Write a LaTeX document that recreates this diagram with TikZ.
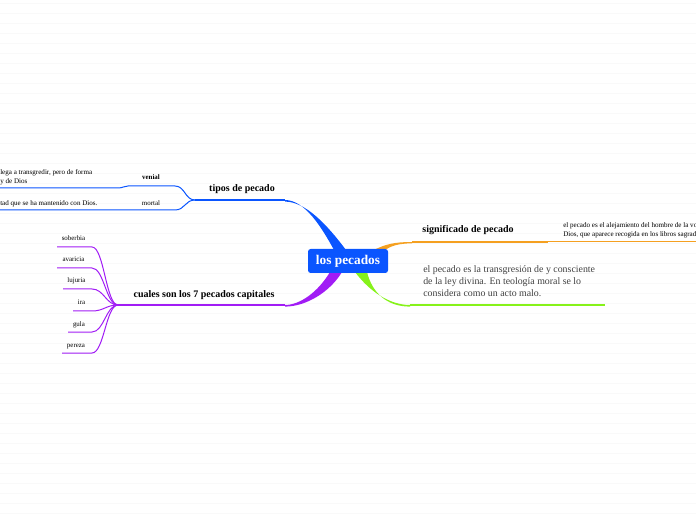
\documentclass[tikz,border=0pt]{standalone}
\usepackage{fontspec}
\setmainfont{Liberation Serif}
\usetikzlibrary{calc}
\definecolor{azul}{HTML}{0A55FF}
\definecolor{morado}{HTML}{A11CF5}
\definecolor{verde}{HTML}{86F21A}
\definecolor{naranja}{HTML}{F5A020}
\begin{document}
\begin{tikzpicture}[
x=0.75pt,y=-0.75pt,
tema/.style={font=\bfseries\fontsize{7.5}{9}\selectfont, inner sep=0pt, anchor=base},
hoja/.style={font=\fontsize{5.2}{6.5}\selectfont, inner sep=0pt, anchor=base},
nota/.style={font=\fontsize{5.3}{6.8}\selectfont, inner sep=0pt, align=left},
rama/.style={line width=1.1pt},
sub/.style={line width=0.75pt}
]
\useasboundingbox (0,0) rectangle (696,520);
\foreach \y in {3,13,...,513}
\draw[black!2.5, line width=0.6pt] (0,\y) -- (696,\y);

% ramas principales
\coordinate (T) at (285,200);
\coordinate (Tj) at (195,200);
\coordinate (C) at (285,305);
\coordinate (Cj) at (118,305);
\coordinate (S) at (412,242);
\coordinate (Sj) at (548,242);
\coordinate (G) at (410,305);
\coordinate (Gx) at (605,305);

\fill[azul] (334,250) .. controls (322,228) and (305,200) .. (T)
-- ($(T)+(0,1.6)$) .. controls (306,201.6) and (328,226) .. (346,250) -- cycle;
\fill[morado] (330,272) .. controls (318,292) and (300,305) .. (C)
-- ($(C)+(0,1.6)$) .. controls (306,306.6) and (330,292) .. (342,272) -- cycle;
\fill[verde] (355,272) .. controls (370,292) and (390,305) .. (G)
-- ($(G)+(0,1.6)$) .. controls (386,306.6) and (372,292) .. (367,272) -- cycle;
\fill[naranja] (372,251) .. controls (385,244) and (395,242) .. (S)
-- ($(S)+(0,1.3)$) .. controls (398,243.5) and (390,246) .. (384,251) -- cycle;

\node[fill=azul, rounded corners=2pt, text=white,
font=\bfseries\fontsize{10}{12}\selectfont,
minimum width=60pt, minimum height=18pt] (P) at (348,261) {los pecados};

% tipos de pecado
\draw[rama, azul] (T) -- (Tj);
\node[tema] (Tl) at (242,192) {tipos de pecado};
\coordinate (V) at (175,186);
\coordinate (Vx) at (128,186);
\coordinate (Vh) at (0,188);
\coordinate (M) at (175,210);
\coordinate (Mx) at (0,210);
\draw[sub, azul] (Tj) .. controls (185,200) and (185,186) .. (V) -- (Vx)
.. controls (124,186) and (123,188) .. (118,188) -- (Vh);
\draw[sub, azul] (Tj) .. controls (185,200) and (185,210) .. (M) -- (Mx);
\node[hoja, font=\bfseries\fontsize{5.2}{6.5}\selectfont] (Vl) at (151,180) {venial};
\node[hoja] (Ml) at (151,206) {mortal};
\node[nota, anchor=north west] (Vt) at (0,169.5) {lega a transgredir, pero de forma\\y de Dios};
\node[nota, anchor=base west] (Mt) at (0,206) {tad que se ha mantenido con Dios.};

% cuales son los 7 pecados capitales
\draw[rama, morado] (C) -- (Cj);
\node[tema] (Cl) at (204,298) {cuales son los 7 pecados capitales};
\foreach \n/\y/\x in {soberbia/247/57, avaricia/268/57, lujuria/289/63,
ira/311/73, gula/332/68, pereza/353/62} {
\coordinate (\n) at (\x,\y);
\draw[sub, morado] (Cj) .. controls (106,305) and (104,\y) .. (92,\y) -- (\n);
\node[hoja] (\n l) at ({(\x+90)/2},\y-6) {\n};
}

% significado de pecado
\coordinate (Sx) at (696,242);
\draw[rama, naranja] (S) -- (Sj);
\draw[sub, naranja] (Sj) -- (Sx);
\node[tema] (Sl) at (468,233) {significado de pecado};
\node[nota, anchor=north west] (St) at (563,222.5)
{el pecado es el alejamiento del hombre de la vo\\Dios, que aparece recogida en los libros sagrad};

% definicion
\draw[line width=1pt, verde] (G) -- (Gx);
\node[font=\fontsize{7.4}{9}\selectfont, text=black!75, inner sep=0pt,
align=left, anchor=north west] (Gt) at (423,265.5)
{el pecado es la transgresión de y consciente\\de la ley divina. En teología moral se lo\\considera como un acto malo.};
\end{tikzpicture}
\end{document}
